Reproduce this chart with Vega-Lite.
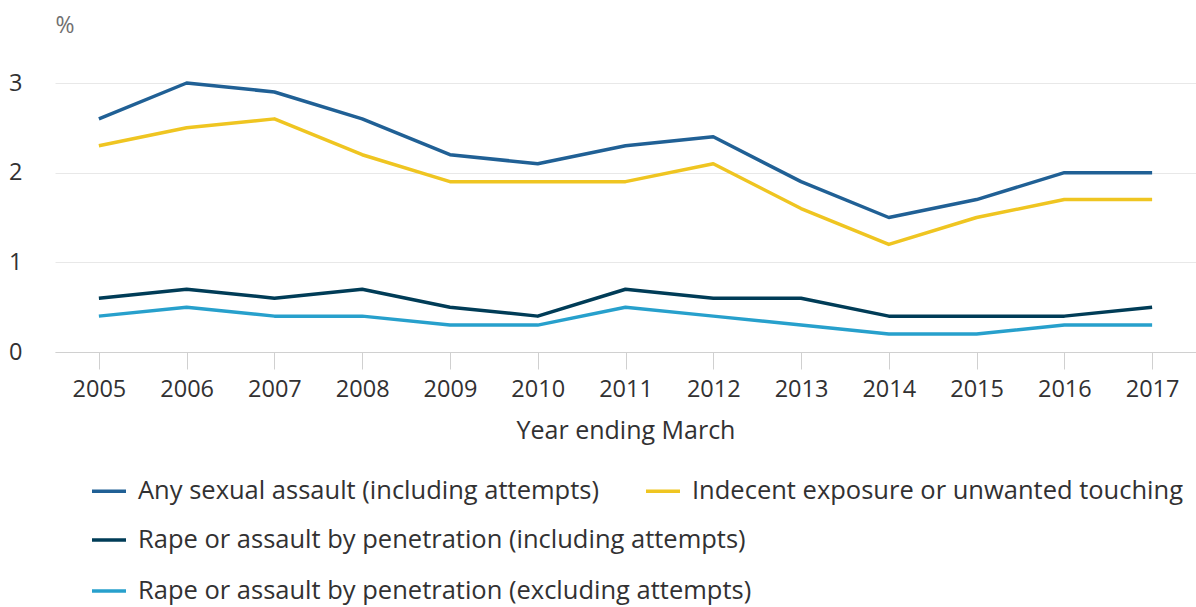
{
  "$schema": "https://vega.github.io/schema/vega-lite/v6.json",
  "autosize": {"type": "none"},
  "width": 1141,
  "height": 269,
  "padding": {"left": 55, "top": 83, "right": 0, "bottom": 255},
  "background": "white",
  "config": {
    "font": "Open Sans",
    "view": {"stroke": null},
    "axis": {"labelFont": "Open Sans", "titleFont": "Open Sans"},
    "legend": {"labelFont": "Open Sans"}
  },
  "data": {
    "values": [
      {"year": "2005", "series": "Any sexual assault (including attempts)", "value": 2.6},
      {"year": "2006", "series": "Any sexual assault (including attempts)", "value": 3.0},
      {"year": "2007", "series": "Any sexual assault (including attempts)", "value": 2.9},
      {"year": "2008", "series": "Any sexual assault (including attempts)", "value": 2.6},
      {"year": "2009", "series": "Any sexual assault (including attempts)", "value": 2.2},
      {"year": "2010", "series": "Any sexual assault (including attempts)", "value": 2.1},
      {"year": "2011", "series": "Any sexual assault (including attempts)", "value": 2.3},
      {"year": "2012", "series": "Any sexual assault (including attempts)", "value": 2.4},
      {"year": "2013", "series": "Any sexual assault (including attempts)", "value": 1.9},
      {"year": "2014", "series": "Any sexual assault (including attempts)", "value": 1.5},
      {"year": "2015", "series": "Any sexual assault (including attempts)", "value": 1.7},
      {"year": "2016", "series": "Any sexual assault (including attempts)", "value": 2.0},
      {"year": "2017", "series": "Any sexual assault (including attempts)", "value": 2.0},
      {"year": "2005", "series": "Indecent exposure or unwanted touching", "value": 2.3},
      {"year": "2006", "series": "Indecent exposure or unwanted touching", "value": 2.5},
      {"year": "2007", "series": "Indecent exposure or unwanted touching", "value": 2.6},
      {"year": "2008", "series": "Indecent exposure or unwanted touching", "value": 2.2},
      {"year": "2009", "series": "Indecent exposure or unwanted touching", "value": 1.9},
      {"year": "2010", "series": "Indecent exposure or unwanted touching", "value": 1.9},
      {"year": "2011", "series": "Indecent exposure or unwanted touching", "value": 1.9},
      {"year": "2012", "series": "Indecent exposure or unwanted touching", "value": 2.1},
      {"year": "2013", "series": "Indecent exposure or unwanted touching", "value": 1.6},
      {"year": "2014", "series": "Indecent exposure or unwanted touching", "value": 1.2},
      {"year": "2015", "series": "Indecent exposure or unwanted touching", "value": 1.5},
      {"year": "2016", "series": "Indecent exposure or unwanted touching", "value": 1.7},
      {"year": "2017", "series": "Indecent exposure or unwanted touching", "value": 1.7},
      {"year": "2005", "series": "Rape or assault by penetration (including attempts)", "value": 0.6},
      {"year": "2006", "series": "Rape or assault by penetration (including attempts)", "value": 0.7},
      {"year": "2007", "series": "Rape or assault by penetration (including attempts)", "value": 0.6},
      {"year": "2008", "series": "Rape or assault by penetration (including attempts)", "value": 0.7},
      {"year": "2009", "series": "Rape or assault by penetration (including attempts)", "value": 0.5},
      {"year": "2010", "series": "Rape or assault by penetration (including attempts)", "value": 0.4},
      {"year": "2011", "series": "Rape or assault by penetration (including attempts)", "value": 0.7},
      {"year": "2012", "series": "Rape or assault by penetration (including attempts)", "value": 0.6},
      {"year": "2013", "series": "Rape or assault by penetration (including attempts)", "value": 0.6},
      {"year": "2014", "series": "Rape or assault by penetration (including attempts)", "value": 0.4},
      {"year": "2015", "series": "Rape or assault by penetration (including attempts)", "value": 0.4},
      {"year": "2016", "series": "Rape or assault by penetration (including attempts)", "value": 0.4},
      {"year": "2017", "series": "Rape or assault by penetration (including attempts)", "value": 0.5},
      {"year": "2005", "series": "Rape or assault by penetration (excluding attempts)", "value": 0.4},
      {"year": "2006", "series": "Rape or assault by penetration (excluding attempts)", "value": 0.5},
      {"year": "2007", "series": "Rape or assault by penetration (excluding attempts)", "value": 0.4},
      {"year": "2008", "series": "Rape or assault by penetration (excluding attempts)", "value": 0.4},
      {"year": "2009", "series": "Rape or assault by penetration (excluding attempts)", "value": 0.3},
      {"year": "2010", "series": "Rape or assault by penetration (excluding attempts)", "value": 0.3},
      {"year": "2011", "series": "Rape or assault by penetration (excluding attempts)", "value": 0.5},
      {"year": "2012", "series": "Rape or assault by penetration (excluding attempts)", "value": 0.4},
      {"year": "2013", "series": "Rape or assault by penetration (excluding attempts)", "value": 0.3},
      {"year": "2014", "series": "Rape or assault by penetration (excluding attempts)", "value": 0.2},
      {"year": "2015", "series": "Rape or assault by penetration (excluding attempts)", "value": 0.2},
      {"year": "2016", "series": "Rape or assault by penetration (excluding attempts)", "value": 0.3},
      {"year": "2017", "series": "Rape or assault by penetration (excluding attempts)", "value": 0.3}
    ]
  },
  "encoding": {
    "x": {
      "field": "year",
      "type": "ordinal",
      "scale": {"type": "point", "padding": 0.5},
      "axis": {
        "title": "Year ending March",
        "labelAngle": 0,
        "labelFontSize": 23.5,
        "labelColor": "#323132",
        "labelPadding": 8,
        "titleFontSize": 25,
        "titleFontWeight": "normal",
        "titleColor": "#323132",
        "titlePadding": 18,
        "domainColor": "#d0d0d0",
        "tickColor": "#d0d0d0",
        "tickSize": 17,
        "grid": false
      }
    },
    "y": {
      "field": "value",
      "type": "quantitative",
      "scale": {"domain": [0, 3], "nice": false, "zero": true},
      "axis": {
        "values": [0, 1, 2, 3],
        "title": "%",
        "titleAngle": 0,
        "titleAlign": "left",
        "titleBaseline": "alphabetic",
        "titleX": 0,
        "titleY": -51,
        "titleFontSize": 23,
        "titleFontWeight": "normal",
        "titleColor": "#707070",
        "labelFontSize": 23.5,
        "labelColor": "#323132",
        "labelPadding": 33,
        "ticks": false,
        "domain": false,
        "grid": true,
        "gridColor": "#e8e8e8",
        "gridWidth": 1
      }
    }
  },
  "layer": [
    {
      "transform": [{"filter": {"field": "series", "oneOf": ["Any sexual assault (including attempts)", "Indecent exposure or unwanted touching"]}}],
      "mark": {"type": "line", "strokeWidth": 3.5, "strokeJoin": "round"},
      "encoding": {
        "color": {
          "field": "series",
          "type": "nominal",
          "scale": {
            "domain": ["Any sexual assault (including attempts)", "Indecent exposure or unwanted touching"],
            "range": ["#206095", "#EFC521"]
          },
          "legend": {
            "title": null,
            "orient": "none",
            "legendX": 35,
            "legendY": 389,
            "direction": "horizontal",
            "symbolType": "stroke",
            "symbolSize": 1156,
            "symbolStrokeWidth": 3.5,
            "labelFontSize": 25.5,
            "labelColor": "#323132",
            "labelOffset": 10,
            "labelLimit": 800,
            "columnPadding": 40
          }
        }
      }
    },
    {
      "transform": [{"filter": {"field": "series", "oneOf": ["Rape or assault by penetration (including attempts)", "Rape or assault by penetration (excluding attempts)"]}}],
      "mark": {"type": "line", "strokeWidth": 3.5, "strokeJoin": "round"},
      "encoding": {
        "color": {
          "field": "series",
          "type": "nominal",
          "scale": {
            "domain": ["Rape or assault by penetration (including attempts)", "Rape or assault by penetration (excluding attempts)"],
            "range": ["#003C57", "#27A0CC"]
          },
          "legend": {
            "title": null,
            "orient": "none",
            "legendX": 35,
            "legendY": 438,
            "direction": "vertical",
            "symbolType": "stroke",
            "symbolSize": 1156,
            "symbolStrokeWidth": 3.5,
            "labelFontSize": 25.5,
            "labelColor": "#323132",
            "labelOffset": 10,
            "labelLimit": 800,
            "rowPadding": 18
          }
        }
      }
    }
  ],
  "resolve": {"scale": {"color": "independent"}, "legend": {"color": "independent"}}
}
